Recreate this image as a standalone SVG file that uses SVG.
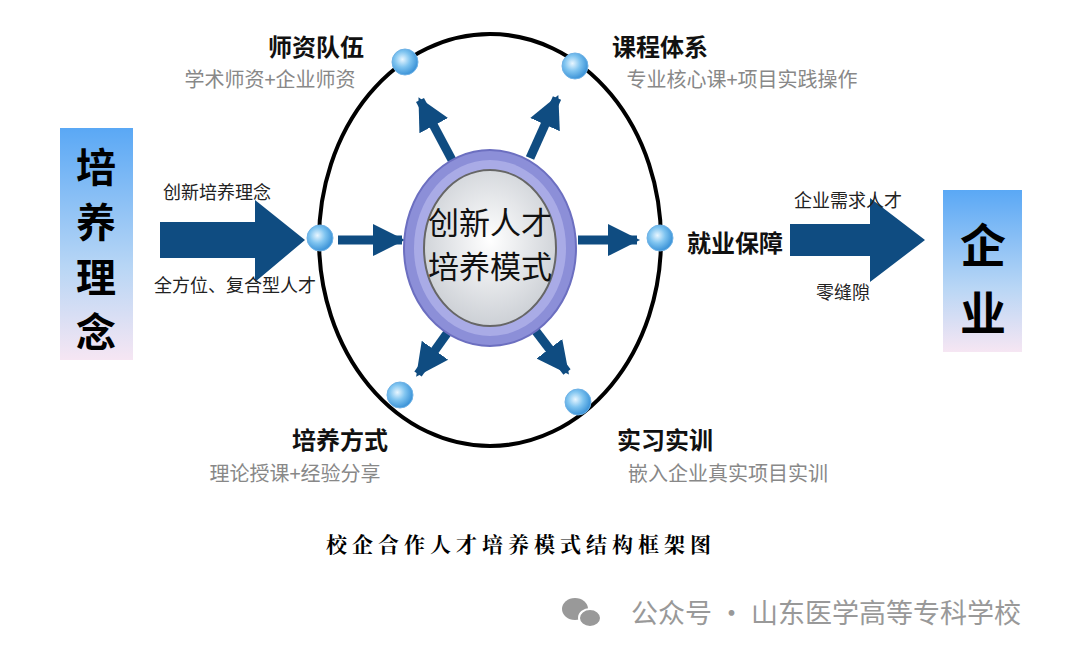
<svg xmlns="http://www.w3.org/2000/svg" width="1080" height="658" viewBox="0 0 1080 658">
<defs>
<linearGradient id="lg" x1="0" y1="0" x2="0" y2="1"><stop offset="0" stop-color="#5aa8f5"/><stop offset="0.6" stop-color="#b8d6f5"/><stop offset="1" stop-color="#f6e6f3"/></linearGradient>
<radialGradient id="bub" cx="0.4" cy="0.4" r="0.6"><stop offset="0" stop-color="#e8f6ff"/><stop offset="0.5" stop-color="#7fc4f0"/><stop offset="1" stop-color="#3d94d8"/></radialGradient>
<radialGradient id="inner" cx="0.5" cy="0.45" r="0.6"><stop offset="0" stop-color="#ffffff"/><stop offset="1" stop-color="#c8ccd2"/></radialGradient>
<marker id="ah" viewBox="0 0 10 10" refX="9" refY="5" markerWidth="3.6" markerHeight="4" orient="auto"><path d="M0,0L10,5L0,10z" fill="#0f4c81"/></marker>
<style>
.cn{font-family:"Noto Sans CJK SC",sans-serif}
.t{font-size:24px;font-weight:bold;fill:#111}
.s{font-size:20px;fill:#888}
.l{font-size:18px;fill:#222}
.b{fill:url(#bub);stroke:#6fb2e6;stroke-width:1}
.ar{stroke:#0f4c81;stroke-width:9;fill:none;marker-end:url(#ah)}
</style>
</defs>
<rect width="1080" height="658" fill="#fff"/>
<g id="left-box"><rect x="60" y="128" width="73" height="232" fill="url(#lg)"/>
<text class="cn" x="96" y="182" font-size="40" font-weight="bold" text-anchor="middle">培</text>
<text class="cn" x="96" y="237" font-size="40" font-weight="bold" text-anchor="middle">养</text>
<text class="cn" x="96" y="292" font-size="40" font-weight="bold" text-anchor="middle">理</text>
<text class="cn" x="96" y="347" font-size="40" font-weight="bold" text-anchor="middle">念</text></g>
<g id="right-box"><rect x="943" y="190" width="79" height="162" fill="url(#lg)"/>
<text class="cn" x="983" y="262" font-size="46" font-weight="bold" text-anchor="middle">企</text>
<text class="cn" x="983" y="330" font-size="46" font-weight="bold" text-anchor="middle">业</text></g>
<ellipse cx="490" cy="240" rx="171" ry="206" fill="none" stroke="#000" stroke-width="4"/>
<g id="connectors">
<path d="M160,222H255V200L305,240L255,282V258H160z" fill="#0f4c81"/>
<path d="M790,224H870V198L925,240L870,282V256H790z" fill="#0f4c81"/>
<line class="ar" x1="338" y1="240" x2="402" y2="240"/>
<line class="ar" x1="578" y1="240" x2="637" y2="240"/>
<line class="ar" x1="452" y1="160" x2="420" y2="100"/>
<line class="ar" x1="530" y1="158" x2="557" y2="98"/>
<line class="ar" x1="448" y1="332" x2="418" y2="374"/>
<line class="ar" x1="535" y1="330" x2="567" y2="372"/>
</g>
<g id="center">
<ellipse cx="490" cy="248" rx="86" ry="98" fill="#8c8fd8" stroke="#6c6fc0" stroke-width="2"/>
<ellipse cx="490" cy="248" rx="76" ry="88" fill="#a9abe6"/>
<ellipse cx="490" cy="248" rx="66" ry="78" fill="url(#inner)" stroke="#666" stroke-width="2"/>
<text x="490" y="234" font-family="Noto Sans CJK SC,serif" font-size="31" text-anchor="middle" fill="#111">创新人才</text>
<text x="490" y="278" font-family="Noto Sans CJK SC,serif" font-size="31" text-anchor="middle" fill="#111">培养模式</text>
</g>
<g id="bubbles">
<circle class="b" cx="320" cy="238" r="13"/><circle class="b" cx="405" cy="62" r="13"/><circle class="b" cx="575" cy="66" r="13"/>
<circle class="b" cx="660" cy="238" r="13"/><circle class="b" cx="400" cy="395" r="13"/><circle class="b" cx="578" cy="402" r="13"/>
</g>
<g id="labels" class="cn">
<text class="t" x="316" y="56" text-anchor="middle">师资队伍</text>
<text class="s" x="270" y="87" text-anchor="middle">学术师资+企业师资</text>
<text class="t" x="660" y="56" text-anchor="middle">课程体系</text>
<text class="s" x="742" y="87" text-anchor="middle">专业核心课+项目实践操作</text>
<text class="t" x="735" y="252" text-anchor="middle">就业保障</text>
<text class="t" x="340" y="449" text-anchor="middle">培养方式</text>
<text class="s" x="295" y="481" text-anchor="middle">理论授课+经验分享</text>
<text class="t" x="665" y="449" text-anchor="middle">实习实训</text>
<text class="s" x="728" y="481" text-anchor="middle">嵌入企业真实项目实训</text>
<text class="l" x="217" y="199" text-anchor="middle">创新培养理念</text>
<text class="l" x="235" y="292" text-anchor="middle">全方位、复合型人才</text>
<text class="l" x="848" y="207" text-anchor="middle">企业需求人才</text>
<text class="l" x="843" y="299" text-anchor="middle">零缝隙</text>
</g>
<text x="521" y="552" font-family="Noto Serif CJK SC,Noto Sans CJK SC,serif" font-size="21" font-weight="bold" text-anchor="middle" letter-spacing="5" fill="#000">校企合作人才培养模式结构框架图</text>
<g id="watermark">
<ellipse cx="575" cy="609" rx="13" ry="11" fill="#999"/><ellipse cx="590" cy="618" rx="11" ry="9" fill="#999" stroke="#fff" stroke-width="2"/>
<text class="cn" x="826" y="623" font-size="27" fill="#999" text-anchor="middle">公众号 · 山东医学高等专科学校</text>
</g>
</svg>
